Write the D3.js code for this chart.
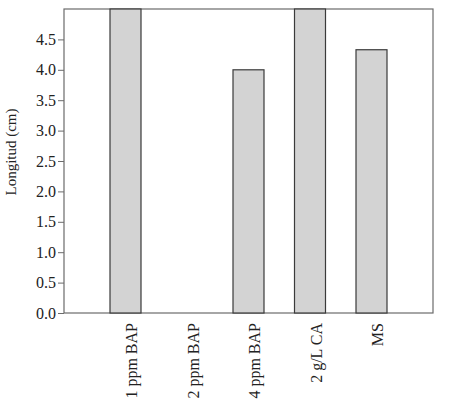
<!DOCTYPE html>
<html>
<head>
<meta charset="utf-8">
<script src="https://cdn.jsdelivr.net/npm/d3@7"></script>
<style>
  body { margin: 0; background: #fff; }
  text { font-family: 'Liberation Serif', 'Times New Roman', serif; }
</style>
</head>
<body>
<div id="chart"></div>
<script>
var categories = ['1 ppm BAP', '2 ppm BAP', '4 ppm BAP', '2 g/L CA', 'MS']
var values = [5.0, 0, 4.0, 5.0, 4.33]
var yTicks = [0, 0.5, 1, 1.5, 2, 2.5, 3, 3.5, 4, 4.5]

var margin = { top: 9, left: 64, right: 17, bottom: 106 }
var width = 450 - margin.left - margin.right
var height = 419 - margin.top - margin.bottom

var svg = d3
  .select('#chart')
  .append('svg')
  .attr('width', 450)
  .attr('height', 419)
  .append('g')
  .attr('transform', 'translate(' + margin.left + ',' + margin.top + ')')

var xPositionScale = d3.scalePoint().domain(categories).range([0, width]).padding(1)
var yPositionScale = d3.scaleLinear().domain([0, 5]).range([height, 0])
var barWidth = 31

// frame
svg
  .append('rect')
  .attr('x', 0)
  .attr('y', 0)
  .attr('width', width)
  .attr('height', height)
  .attr('fill', 'none')
  .attr('stroke', '#6b6b6b')
  .attr('stroke-width', 1.2)

svg
  .selectAll('.bar')
  .data(values)
  .enter()
  .append('rect')
  .attr('class', 'bar')
  .attr('x', (d, i) => xPositionScale(categories[i]) - barWidth / 2)
  .attr('y', d => yPositionScale(d))
  .attr('width', barWidth)
  .attr('height', d => height - yPositionScale(d))
  .attr('fill', '#d3d3d3')
  .attr('stroke', '#3a3a3a')
  .attr('stroke-width', 1.2)
  .style('display', d => (d > 0 ? null : 'none'))

var yAxis = d3
  .axisLeft(yPositionScale)
  .tickValues(yTicks)
  .tickFormat(d3.format('.1f'))
  .tickSize(6)
  .tickPadding(2)

svg
  .append('g')
  .attr('class', 'y-axis')
  .call(yAxis)
  .call(g => g.select('.domain').remove())
  .call(g => g.selectAll('line').attr('stroke', '#6b6b6b'))
  .call(g => g.selectAll('text').attr('font-size', 16).attr('fill', '#222'))

var xAxis = d3.axisBottom(xPositionScale).tickSize(0).tickPadding(0)

svg
  .append('g')
  .attr('class', 'x-axis')
  .attr('transform', 'translate(0,' + height + ')')
  .call(xAxis)
  .call(g => g.select('.domain').remove())
  .call(g =>
    g
      .selectAll('text')
      .attr('font-size', 16)
      .attr('fill', '#222')
      .attr('text-anchor', 'end')
      .attr('transform', 'rotate(-90)')
      .attr('x', -10)
      .attr('y', 0)
      .attr('dy', '0.7em')
      .attr('dx', 0)
  )

svg
  .append('text')
  .attr('transform', 'rotate(-90)')
  .attr('x', -143)
  .attr('y', -48)
  .attr('text-anchor', 'middle')
  .attr('font-size', 15)
  .attr('fill', '#222')
  .text('Longitud (cm)')
</script>
</body>
</html>
